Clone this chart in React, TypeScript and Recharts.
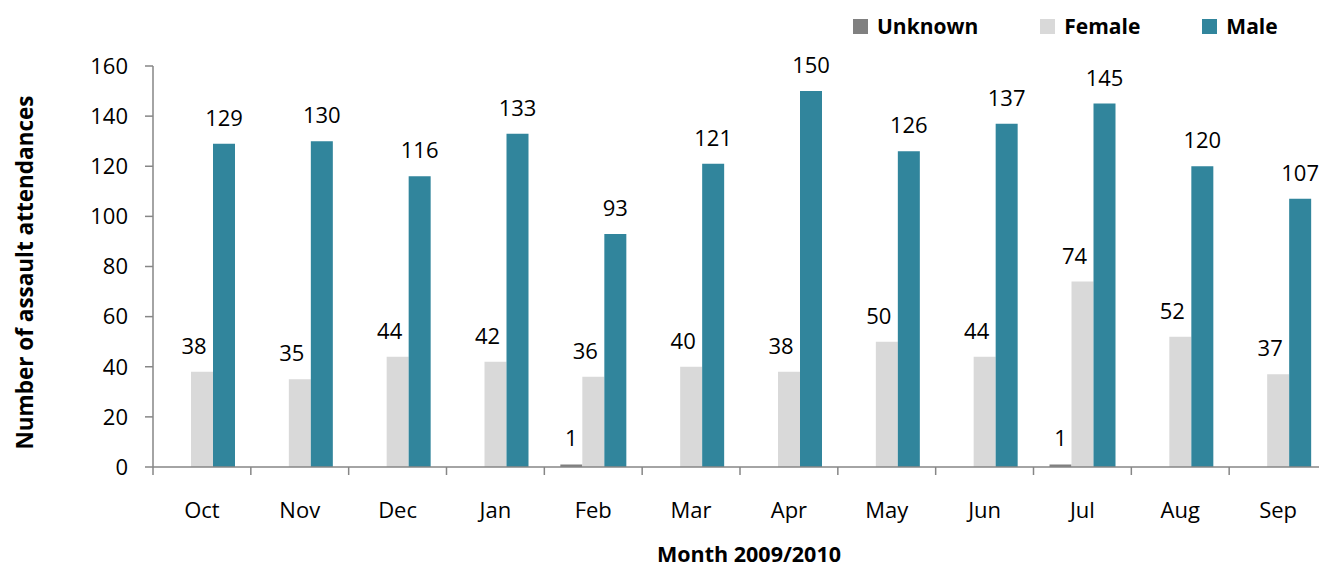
import React from 'react';
import { BarChart, Bar, XAxis, YAxis, LabelList, Legend } from 'recharts';

const months = ['Oct', 'Nov', 'Dec', 'Jan', 'Feb', 'Mar', 'Apr', 'May', 'Jun', 'Jul', 'Aug', 'Sep'];
const unknownValues = [0, 0, 0, 0, 1, 0, 0, 0, 0, 1, 0, 0];
const femaleValues = [38, 35, 44, 42, 36, 40, 38, 50, 44, 74, 52, 37];
const maleValues = [129, 130, 116, 133, 93, 121, 150, 126, 137, 145, 120, 107];
const yTicks = [0, 20, 40, 60, 80, 100, 120, 140, 160];
const seriesNames = ['Unknown', 'Female', 'Male'];
const seriesColors = ['#808080', '#D9D9D9', '#31859C'];

const data = months.map((m, i) => ({
  month: m,
  Unknown: unknownValues[i],
  Female: femaleValues[i],
  Male: maleValues[i],
}));

const FONT = '"Open Sans", sans-serif';
const AXIS = '#868686';
const X_TICK_SIZE = 8;
const X_TICK_MARGIN = 27;

const XTick = (props: any) => {
  const { x, y, payload, index, visibleTicksCount } = props;
  const half = payload && typeof payload.offset === 'number' ? payload.offset : 0;
  const axisY = y - X_TICK_SIZE - X_TICK_MARGIN;
  return (
    <g>
      <line x1={x - half} x2={x - half} y1={axisY} y2={axisY + X_TICK_SIZE} stroke={AXIS} strokeWidth={1.5} />
      {index === visibleTicksCount - 1 && (
        <line x1={x + half} x2={x + half} y1={axisY} y2={axisY + X_TICK_SIZE} stroke={AXIS} strokeWidth={1.5} />
      )}
      <text x={x} y={y} dy="0.71em" textAnchor="middle" fontFamily={FONT} fontSize={22} fill="#000">
        {payload.value}
      </text>
    </g>
  );
};

const makeLabel = (dx: number) => (props: any) => {
  const { x, y, width, value } = props;
  if (!value) return null;
  return (
    <text
      x={Number(x) + Number(width) / 2 + dx}
      y={Number(y) - 18}
      textAnchor="middle"
      fontFamily={FONT}
      fontSize={22}
      fill="#000"
    >
      {value}
    </text>
  );
};

const LegendContent = () => (
  <div
    style={{
      display: 'flex',
      alignItems: 'center',
      paddingLeft: 853,
      paddingTop: 12,
      height: 28,
      fontFamily: FONT,
      fontWeight: 700,
      fontSize: 21,
      color: '#000',
      lineHeight: '22px',
    }}
  >
    {seriesNames.map((name, i) => (
      <div key={name} style={{ display: 'flex', alignItems: 'center', marginRight: 62 }}>
        <span style={{ display: 'inline-block', width: 15, height: 15, background: seriesColors[i], marginRight: 9 }} />
        <span>{name}</span>
      </div>
    ))}
  </div>
);

const YTitle = (props: any) => {
  const vb = props.viewBox || {};
  const cx = vb.x + 24;
  const cy = vb.y + vb.height / 2 + 6;
  return (
    <text
      x={cx}
      y={cy}
      transform={`rotate(-90, ${cx}, ${cy})`}
      textAnchor="middle"
      dominantBaseline="central"
      fontFamily={FONT}
      fontWeight={700}
      fontSize={22.5}
      fill="#000"
    >
      Number of assault attendances
    </text>
  );
};

const XTitle = (props: any) => {
  const vb = props.viewBox || {};
  const cx = vb.x + vb.width / 2 + 9;
  const baseline = vb.y + 95;
  return (
    <text x={cx} y={baseline} textAnchor="middle" fontFamily={FONT} fontWeight={700} fontSize={21.5} fill="#000">
      Month 2009/2010
    </text>
  );
};

export default function App() {
  return (
    <div style={{ position: 'absolute', left: 0, top: 0, width: 1319, height: 570, overflow: 'hidden', background: '#fff' }}>
      <BarChart
        width={1340}
        height={570}
        data={data}
        margin={{ top: 26, right: 13, left: 0, bottom: 0 }}
        barCategoryGap={16}
        barGap={0}
      >
        <Legend
          verticalAlign="top"
          height={40}
          content={<LegendContent />}
          wrapperStyle={{ position: 'absolute', top: 0, left: 0, width: 1319, height: 40 }}
        />
        <XAxis
          dataKey="month"
          height={103}
          axisLine={{ stroke: AXIS, strokeWidth: 1.5 }}
          tickLine={false}
          tickSize={X_TICK_SIZE}
          tickMargin={X_TICK_MARGIN}
          tick={<XTick />}
          interval={0}
          label={<XTitle />}
        />
        <YAxis
          width={153}
          domain={[0, 160]}
          ticks={yTicks}
          interval={0}
          axisLine={{ stroke: AXIS, strokeWidth: 1.5 }}
          tickLine={{ stroke: AXIS, strokeWidth: 1.5 }}
          tickSize={8}
          tickMargin={17}
          tick={{ fontFamily: FONT, fontSize: 22, fill: '#000' }}
          label={<YTitle />}
        />
        <Bar dataKey="Unknown" fill={seriesColors[0]} isAnimationActive={false}>
          <LabelList dataKey="Unknown" content={makeLabel(0)} />
        </Bar>
        <Bar dataKey="Female" fill={seriesColors[1]} isAnimationActive={false}>
          <LabelList dataKey="Female" content={makeLabel(-8)} />
        </Bar>
        <Bar dataKey="Male" fill={seriesColors[2]} isAnimationActive={false}>
          <LabelList dataKey="Male" content={makeLabel(0)} />
        </Bar>
      </BarChart>
    </div>
  );
}
